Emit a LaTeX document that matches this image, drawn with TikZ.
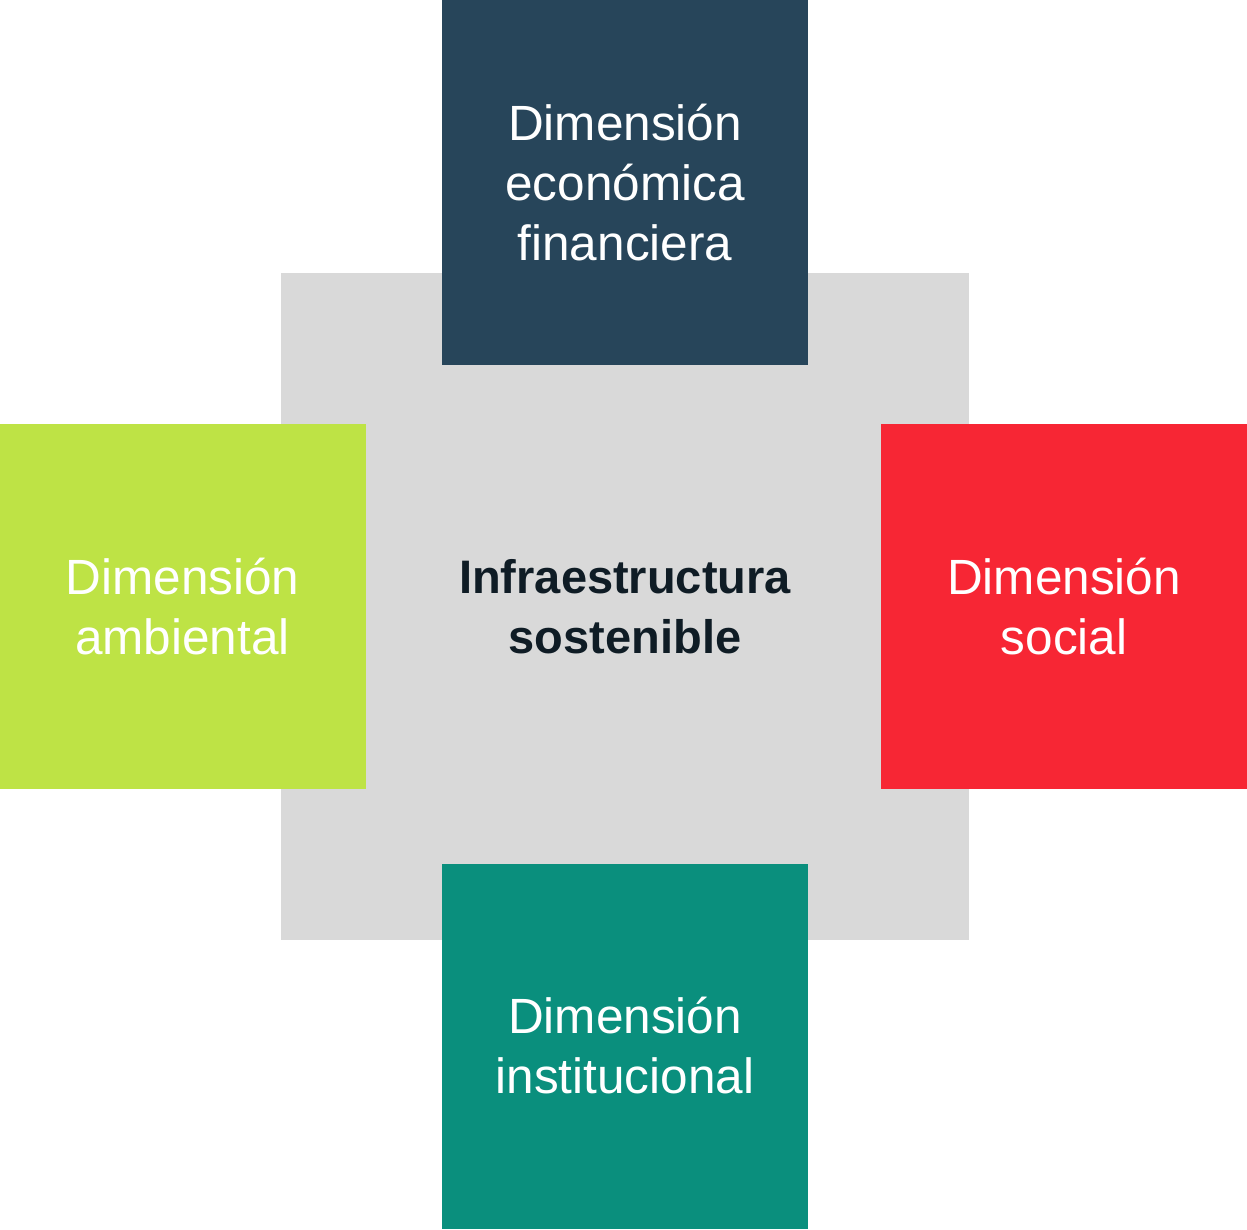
\documentclass[tikz,border=0pt]{standalone}
\usepackage{fontspec}
\setmainfont{Liberation Sans}
\definecolor{econ}{HTML}{27455A}
\definecolor{amb}{HTML}{BEE345}
\definecolor{soc}{HTML}{F72634}
\definecolor{inst}{HTML}{0A8F7D}
\definecolor{core}{HTML}{D9D9D9}
\definecolor{coretext}{HTML}{0F1C25}
\begin{document}
\begin{tikzpicture}[x=1pt,y=-1pt,
  dimbox/.style={rectangle, inner sep=0pt, align=center, text=white,
    minimum width=366pt, minimum height=365pt,
    font=\fontsize{49.5}{60}\selectfont},
  corebox/.style={rectangle, fill=core, inner sep=0pt, align=center,
    text=coretext, minimum width=688pt, minimum height=667pt,
    font=\fontsize{47}{60}\selectfont\bfseries}]
  \useasboundingbox (0,0) rectangle (1247,1229);
  % central square
  \node[corebox] (core) at (625,606.5) {Infraestructura\\sostenible};
  % the four dimensions
  \node[dimbox, fill=econ] (econ) at (625,182.5) {Dimensión\\económica\\financiera};
  \node[dimbox, fill=amb] (amb) at (182.5,606.5) {Dimensión\\ambiental};
  \node[dimbox, fill=soc] (soc) at (1064,606.5) {Dimensión\\social};
  \node[dimbox, fill=inst] (inst) at (625,1046) {Dimensión\\institucional};
\end{tikzpicture}
\end{document}
